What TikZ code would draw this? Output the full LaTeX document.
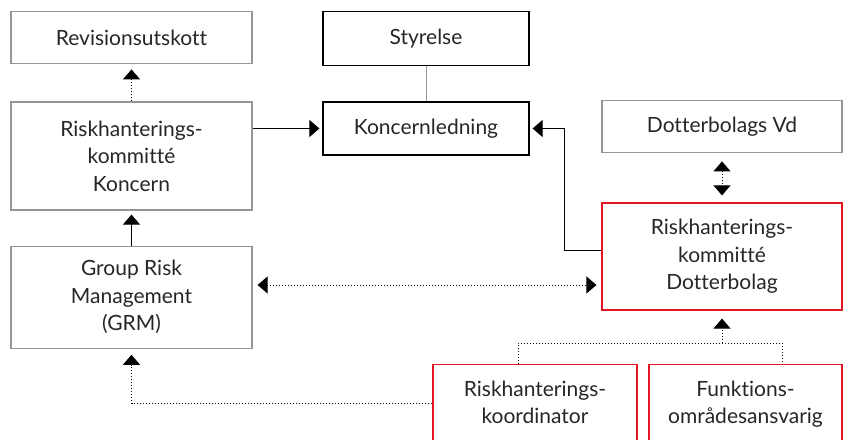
\documentclass[tikz,border=0pt]{standalone}
\usepackage{fontspec}
\setmainfont{Lato}[Ligatures=NoCommon]
\usetikzlibrary{positioning,arrows.meta}

\definecolor{boxgray}{RGB}{150,150,150}
\definecolor{riskred}{RGB}{228,20,35}

\begin{document}
\begin{tikzpicture}[x=1pt,y=-1pt,
  every node/.style={font=\fontsize{21}{27.5}\selectfont, text=black!85},
  box/.style={draw=boxgray, line width=1.2pt, align=center, inner sep=0pt, minimum width=241pt},
  mgmt/.style={box, draw=black, minimum width=206pt},
  sub/.style={box, draw=riskred},
  cutsub/.style={sub, anchor=north, inner ysep=16pt, text depth=60pt},
  pointer/.style={-{Triangle[length=10pt,width=17pt]}},
  twoway/.style={{Triangle[length=10pt,width=17pt]}-{Triangle[length=10pt,width=17pt]}},
  dotline/.style={line width=1pt, dash pattern=on 1pt off 2pt},
  link/.style={line width=1pt}]

  \useasboundingbox (0,0) rectangle (843,439);
  \clip (0,0) rectangle (843,439);

  \node[box, minimum height=108pt] (rkk) at (131.5,156) {Riskhanterings-\\kommitté\\Koncern};
  \node[box, minimum height=52pt, above=37pt of rkk] (rev) {Revisionsutskott};
  \node[box, minimum height=102pt, below=35pt of rkk] (grm) {Group Risk\\Management\\(GRM)};

  \node[mgmt, minimum height=53pt] (kl) at (426,128.5) {Koncernledning};
  \node[mgmt, minimum height=54pt, above=35pt of kl] (sty) {Styrelse};

  %==================================================

  \node[sub, minimum width=240pt, minimum height=107pt] (rkd) at (722,256.5) {Riskhanterings-\\kommitté\\Dotterbolag};
  \node[box, minimum width=240pt, minimum height=52pt, above=49pt of rkd] (dvd) {Dotterbolags Vd};

  \node[cutsub, minimum width=204pt] (koord) at (535,364) {Riskhanterings-\\koordinator};
  \node[cutsub, minimum width=193pt] (funk) at (745.5,364) {Funktions-\\områdesansvarig};

  \coordinate (join) at (rkd.south |- 0,343);

  %==================================================

  \draw[dotline, pointer, shorten >=5pt] (rkk) -- (rev);
  \draw[link, pointer, shorten >=4pt] (grm) -- (rkk);
  \draw[link, pointer, shorten >=3pt] (rkk.east |- kl) -- (kl);
  \draw[link, boxgray] (sty) -- (kl);
  \draw[link, pointer, shorten >=3pt] ([yshift=6pt]rkd.west) -- ++(-37,0) |- (kl.east);

  \draw[dotline, twoway, shorten <=5pt, shorten >=5pt] (grm.east |- 0,285) -- (rkd.west |- 0,285);
  \draw[dotline, twoway, shorten <=8pt, shorten >=7pt] (dvd) -- (rkd);

  \draw[dotline] ([xshift=-17pt]koord.north) |- (join) -| ([xshift=36.5pt]funk.north);
  \draw[dotline, pointer, shorten >=8pt] (join) -- (rkd);
  \draw[dotline, pointer, shorten >=6pt] (koord.west |- 0,403) -| (grm);

\end{tikzpicture}
\end{document}
